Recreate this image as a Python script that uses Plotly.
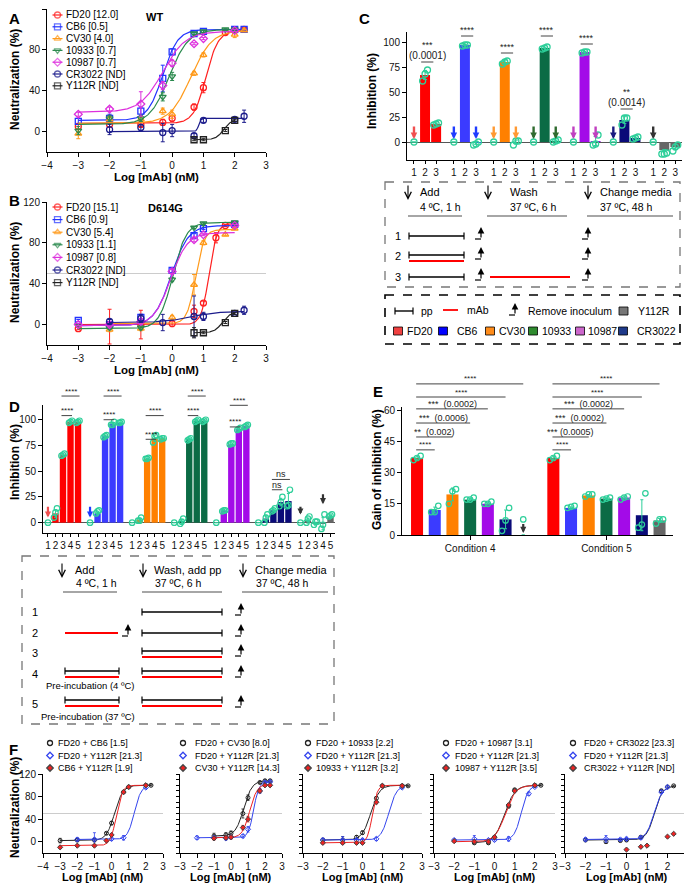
import numpy as np
import plotly.graph_objects as go

W, H = 692, 886
OFF = 8  # the page body margin shifts the figure by 8 px
FONT = 'Liberation Sans, Arial, sans-serif'

# ---------------- data ----------------
mabs = ['FD20', 'CB6', 'CV30', '10933', '10987', 'CR3022', 'Y112R']

# A: WT pseudovirus, x = log10 [mAb] (nM), y = neutralization (%)
wt_ic50 = ['12.0', '0.5', '4.0', '0.7', '0.7', 'ND', 'ND']
wt_x = {
    'FD20':   [-3, -2, -1, -0.3, 0, 0.7, 1, 1.7, 2, 2.3],
    'CB6':    [-3, -2, -1, -0.3, 0, 0.7, 1, 2, 2.3],
    'CV30':   [-3, -2, -1, -0.3, 0, 0.7, 1, 2, 2.3],
    '10933':  [-3, -2, -1, -0.3, 0, 0.7, 1, 1.7, 2],
    '10987':  [-3, -2, -1, -0.3, 0, 0.7, 1, 2],
    'CR3022': [-2, -1, -0.3, 0, 0.7, 1, 2, 2.3],
    'Y112R':  [0.7, 1, 1.7, 2],
}
wt_y = {
    'FD20':   [5, 7, 7, 9, 13, 24, 43, 97, 99, 100],
    'CB6':    [10, 13, 20, 52, 78, 96, 98, 100, 100],
    'CV30':   [-2, 12, 12, 20, 17, 57, 75, 95, 99],
    '10933':  [1, 13, 13, 34, 54, 96, 98, 100, 100],
    '10987':  [17, 22, 27, 45, 67, 86, 91, 99],
    'CR3022': [2, 4, -1, 1, -4, 11, 12, 15],
    'Y112R':  [-8, -8, 1, 11],
}
wt_err = {
    'FD20':   [3, 3, 2, 3, 3, 3, 5, 2, 2, 2],
    'CB6':    [3, 4, 4, 13, 3, 1, 1, 1, 1],
    'CV30':   [5, 3, 3, 3, 4, 2, 2, 3, 1],
    '10933':  [4, 3, 3, 4, 4, 1, 1, 1, 1],
    '10987':  [2, 2, 12, 4, 3, 1, 1, 1],
    'CR3022': [5, 3, 9, 6, 2, 2, 2, 6],
    'Y112R':  [1, 1, 1, 1],
}
# 4PL fit: bottom, top, logIC50, hill
wt_fit = {
    'FD20':   [8, 99, 1.08, 2.2],
    'CB6':    [11, 100, -0.3, 1.8],
    'CV30':   [8, 99, 0.6, 1.3],
    '10933':  [7, 100, -0.1, 1.4],
    '10987':  [19, 98, -0.3, 1.2],
    'CR3022': [0, 13, 0.85, 12],
    'Y112R':  [-8, 12, 1.65, 3.5],
}

# B: D614G
mut_ic50 = ['15.1', '0.9', '5.4', '1.1', '0.8', 'ND', 'ND']
mut_x = {
    'FD20':   [-3, -2, -1, 0, 0.7, 1, 1.4, 1.7, 2],
    'CB6':    [-3, -2, -1, 0, 0.7, 1, 2],
    'CV30':   [-2, -1, 0, 0.7, 1, 1.7, 2],
    '10933':  [-3, -2, -1, 0, 0.7, 1, 2],
    '10987':  [-3, -2, -1, 0, 0.7, 1, 2],
    'CR3022': [-2, -1, -0.3, 0.7, 1, 2, 2.3],
    'Y112R':  [0.7, 1, 1.7, 2],
}
mut_y = {
    'FD20':   [-4, -2, 0, 1, 13, 21, 85, 97, 98],
    'CB6':    [4, 0, 7, 53, 87, 94, 98],
    'CV30':   [-5, -4, 7, 39, 80, 88, 94],
    '10933':  [-1, -3, -3, 44, 95, 99, 100],
    '10987':  [0, 0, 3, 52, 83, 88, 97],
    'CR3022': [3, 6, 2, 8, 8, 11, 14],
    'Y112R':  [-8, -8, 2, 11],
}
mut_err = {
    'FD20':   [1, 17, 14, 3, 6, 2, 5, 1, 1],
    'CB6':    [1, 2, 3, 2, 2, 1, 1],
    'CV30':   [2, 2, 2, 10, 2, 1, 1],
    '10933':  [1, 2, 2, 2, 1, 1, 1],
    '10987':  [1, 2, 3, 2, 2, 1, 1],
    'CR3022': [2, 4, 8, 20, 4, 1, 4],
    'Y112R':  [5, 1, 1, 1],
}
mut_fit = {
    'FD20':   [0, 99, 1.18, 3.5],
    'CB6':    [-1, 97, -0.03, 1.6],
    'CV30':   [1, 93, 0.75, 3.2],
    '10933':  [-4, 100, 0.02, 2.0],
    '10987':  [-1, 90, -0.05, 1.6],
    'CR3022': [2, 13, 0.6, 1.0],
    'Y112R':  [-8, 12, 1.6, 3.5],
}

# C: inhibition (%) for conditions 1-3
c_bars = {
    'FD20': [0, 67, 18], 'CB6': [0, 97, -1], 'CV30': [0, 80, 0], '10933': [0, 94, 1],
    '10987': [0, 90, 1], 'CR3022': [0, 22, 4], 'Y112R': [0, -8, -5],
}
c_reps = {
    'FD20': [[0], [61, 68, 72], [17, 18, 19]],
    'CB6': [[0], [96, 97, 97], [-3, -2, 0]],
    'CV30': [[0], [78, 80, 81], [-3, 1, 1]],
    '10933': [[0], [93, 94, 95], [0, 1, 2]],
    '10987': [[0], [89, 90, 90], [-3, -2, 7]],
    'CR3022': [[0], [17, 24, 24], [3, 4, 5]],
    'Y112R': [[0], [-12, -12, -11], [-9, -5, -3]],
}
c_arrow_conds = {'FD20': [1], 'CB6': [1, 3], 'CV30': [1, 3], '10933': [1, 3],
                 '10987': [1, 3], 'CR3022': [1], 'Y112R': [1]}
c_sig = [('FD20', '***', '(0.0001)', 80), ('CB6', '****', '', 106), ('CV30', '****', '', 89),
         ('10933', '****', '', 106), ('10987', '****', '', 98), ('CR3022', '**', '(0.0014)', 33)]

# D: inhibition (%) for conditions 1-5
d_bars = {
    'FD20': [0, 9, 66, 98, 98], 'CB6': [0, 9, 84, 96, 97], 'CV30': [0, 3, 62, 82, 82],
    '10933': [0, 1, 81, 99, 99], '10987': [0, 12, 76, 91, 94], 'CR3022': [0, 4, 12, 20, 21],
    'Y112R': [0, 2, -1, -1, 6],
}
d_reps = {
    'FD20': [[0], [5, 10, 14], [65, 66, 67], [97, 98, 99], [97, 98, 99]],
    'CB6': [[0], [9, 11, 12], [83, 84, 85], [95, 95, 98], [97, 97, 98]],
    'CV30': [[0], [2, 2, 5], [62, 62, 63], [78, 84, 85], [81, 82, 82]],
    '10933': [[0], [-1, 1, 4], [80, 81, 82], [98, 99, 100], [98, 99, 100]],
    '10987': [[0], [11, 12, 12], [76, 77, 77], [90, 91, 92], [93, 94, 95]],
    'CR3022': [[0], [0, 5, 8], [11, 12, 14], [16, 20, 25], [16, 17, 32]],
    'Y112R': [[0], [0, 4, 6], [-2, 1, 1], [-6, -2, 8], [6, 7, 8]],
}
d_arrows = [('FD20', 1, 17, 5), ('CB6', 1, 17, 5), ('Y112R', 1, 17, 8), ('Y112R', 4, 29, 18)]
d_sig = [('FD20', 4, 123), ('FD20', 3, 104), ('CB6', 4, 123), ('CB6', 3, 100),
         ('CV30', 4, 104), ('CV30', 3, 81), ('10933', 4, 123), ('10933', 3, 104),
         ('10987', 4, 114), ('10987', 3, 93)]
d_ns = [('CR3022', 4, 42), ('CR3022', 3, 32)]

# E: gain of inhibition (%)
conditions = ['Condition 4', 'Condition 5']
e_bars = {
    'Condition 4': [37, 12, 19.5, 17, 15, 7.5, 0],
    'Condition 5': [37, 13, 19, 17.5, 18, 9.5, 7],
}
e_reps = {
    'Condition 4': [[36, 37, 38], [11, 11, 14], [15, 21, 22], [17, 17, 18], [15, 15, 16], [2, 7, 13], [7.5]],
    'Condition 5': [[36, 37, 38], [13, 13.5, 14], [18.5, 19.5, 19.5], [17, 17.5, 18], [17, 18, 18.5], [3.5, 5, 20], [5.5, 7.5, 7.5]],
}
e_sig = {
    'Condition 4': [(6, '****', 72.6), (5, '****', 66.3), (4, '***  (0.0002)', 60.6),
                    (3, '***  (0.0006)', 53.8), (2, '**  (0.002)', 47.1), (1, '****', 40.9)],
    'Condition 5': [(6, '****', 72.6), (5, '****', 66.3), (4, '***  (0.0002)', 60.6),
                    (3, '***  (0.0002)', 53.8), (2, '*** (0.0005)', 47.1), (1, '****', 40.9)],
}

# F: combinations
f_labels = [
    ['FD20 + CB6 [1.5]', 'FD20 + Y112R [21.3]', 'CB6 + Y112R [1.9]'],
    ['FD20 + CV30 [8.0]', 'FD20 + Y112R [21.3]', 'CV30 + Y112R [14.3]'],
    ['FD20 + 10933 [2.2]', 'FD20 + Y112R [21.3]', '10933 + Y112R [3.2]'],
    ['FD20 + 10987 [3.1]', 'FD20 + Y112R [21.3]', '10987 + Y112R [3.5]'],
    ['FD20 + CR3022 [23.3]', 'FD20 + Y112R [21.3]', 'CR3022 + Y112R [ND]'],
]
f_x = [
    [[-3, -2, -1, -0.3, 0, 0.7, 1, 2, 2.3], [-2, -1, 0, 0.7, 2], [-3, -2, -1, -0.3, 0, 0.7, 1, 2]],
    [[-1, -0.3, 0, 0.7, 1, 1.7, 2, 2.3], [-2, -1, -0.3, 0, 0.7, 1, 1.7, 2, 2.3], [-1, -0.3, 0, 0.7, 1, 1.7, 2, 2.3]],
    [[-2, -1, -0.3, 0, 0.7, 1, 2, 2.3], [-2, -1, -0.3, 0, 0.7, 2], [-2, -1, -0.3, 0, 0.7, 1, 2]],
    [[-1, -0.3, 0, 0.7, 1, 2, 2.3], [-2, -1, -0.3, 0, 0.7, 1.7, 2], [-2, -1, -0.3, 0, 0.7, 1, 2]],
    [[-2, -1, -0.3, 0, 0.7, 1.7, 2, 2.3], [-2, -1, -0.3, 0, 0.7, 1.7, 2], [0, 0.7, 1, 2, 2.3]],
]
f_y = [
    [[2, 3, 3, 15, 33, 88, 97, 100, 100], [4, 4, 5, 7, 96], [-10, -7, -7, 2, 12, 88, 97, 100]],
    [[10, 12, 15, 50, 78, 105, 108, 108], [7, 7, 6, 8, 10, 22, 90, 105, 106], [6, 7, 8, 25, 40, 90, 100, 100]],
    [[3, 3, 8, 16, 77, 99, 99, 99], [3, 3, 3, 3, 5, 96], [-2, -2, -2, -2, 70, 99, 99]],
    [[-2, -2, 8, 63, 92, 100, 100], [3, 5, 3, 3, 5, 85, 97], [1, 0, 0, 8, 65, 90, 100]],
    [[3, 0, 2, 3, 8, 90, 97, 99], [4, 5, 4, 5, 7, 88, 97], [-14, -9, -7, 9, 14]],
]
f_err = [
    [[4, 3, 3, 2, 3, 2, 1, 1, 1], [3, 12, 3, 4, 2], [2, 1, 1, 2, 2, 2, 1, 1]],
    [[5, 4, 4, 8, 5, 2, 2, 2], [3, 3, 3, 3, 3, 5, 4, 2, 2], [3, 3, 3, 4, 5, 3, 2, 2]],
    [[3, 6, 3, 3, 3, 1, 1, 1], [3, 6, 3, 3, 3, 2], [2, 2, 2, 2, 3, 1, 1]],
    [[2, 2, 3, 3, 2, 1, 1], [2, 6, 2, 2, 4, 3, 1], [2, 2, 2, 3, 3, 2, 1]],
    [[2, 3, 2, 2, 2, 3, 2, 1], [3, 6, 2, 3, 3, 3, 2], [0, 0, 0, 0, 0]],
]
f_fit = [
    [[2, 100, 0.18, 1.8], [4, 100, 1.33, 2.2], [-7, 100, 0.28, 2.5]],
    [[10, 108, 0.75, 1.8], [7, 106, 1.33, 2.8], [7, 102, 1.1, 2.0]],
    [[3, 100, 0.42, 2.0], [3, 100, 1.33, 2.2], [-2, 100, 0.5, 3.5]],
    [[-2, 100, 0.5, 1.7], [3, 100, 1.33, 2.5], [0, 100, 0.54, 1.7]],
    [[3, 99, 1.37, 2.2], [4, 98, 1.35, 2.2], None],
]

# ---------------- style ----------------
COL = {'FD20': '#ff2020', 'CB6': '#2233ff', 'CV30': '#ff9a1a', '10933': '#2b8a4e',
       '10987': '#dd30dd', 'CR3022': '#1c1c8c', 'Y112R': '#222222'}
SYM = {'FD20': 'circle-open', 'CB6': 'square-open', 'CV30': 'triangle-up-open',
       '10933': 'triangle-down-open', '10987': 'diamond-open', 'CR3022': 'circle-open',
       'Y112R': 'square-open'}
BAR = {'FD20': '#ff0000', 'CB6': '#3b3bff', 'CV30': '#ff8000', '10933': '#0b6b45',
       '10987': '#a30be8', 'CR3022': '#0a0a78', 'Y112R': '#666666'}
ARROW = {'FD20': '#f05050', 'CB6': '#1f3cff', 'CV30': '#ff9933', '10933': '#2f6b2f',
         '10987': '#c040c0', 'CR3022': '#1a1a80', 'Y112R': '#333333'}
BOXCOL = {'FD20': '#f04040', 'CB6': '#0000ff', 'CV30': '#ff8c1a', '10933': '#2e8b2e',
          '10987': '#cc66cc', 'CR3022': '#1f3a8a', 'Y112R': '#777777'}
F_COL = ['#222222', '#3344ee', '#ee2222']
F_SYM = ['circle-open', 'diamond-open', 'diamond']
DOT = '#2ecf9a'

fig = go.Figure()
ann, shp = [], []


# page pixel -> paper fraction
def fx(px):
    return (px - OFF) / W


def fy(py):
    return 1 - (py - OFF) / H


def text(px, py, s, size=10, bold=False, anchor='left', color='black', angle=0):
    ann.append(dict(x=fx(px), y=fy(py), xref='paper', yref='paper',
                    text='<b>%s</b>' % s if bold else s, showarrow=False,
                    xanchor=anchor, yanchor='middle', textangle=angle, borderpad=0,
                    font=dict(size=size, family=FONT, color=color)))


def seg(x0, y0, x1, y1, color='black', width=1.2, dash='solid'):
    shp.append(dict(type='line', xref='paper', yref='paper', x0=fx(x0), y0=fy(y0),
                    x1=fx(x1), y1=fy(y1), line=dict(color=color, width=width, dash=dash)))


def rect(x0, y0, x1, y1, fill='rgba(0,0,0,0)', color='black', width=1, dash='solid'):
    shp.append(dict(type='rect', xref='paper', yref='paper', x0=fx(x0), y0=fy(y0),
                    x1=fx(x1), y1=fy(y1), fillcolor=fill, line=dict(color=color, width=width, dash=dash)))


def arrow(px, py_tail, py_head, color='black', width=1.2, head=5, size=1.0):
    ann.append(dict(x=fx(px), y=fy(py_head), xref='paper', yref='paper', text='',
                    showarrow=True, ax=0, ay=py_tail - py_head, arrowhead=head,
                    arrowsize=size, arrowwidth=width, arrowcolor=color))


def capped(x0, x1, y, color='black'):
    seg(x0, y, x1, y, color, 1.4)
    seg(x0, y - 3.5, x0, y + 3.5, color, 1.2)
    seg(x1, y - 3.5, x1, y + 3.5, color, 1.2)


def inoc(px, py):
    seg(px - 6, py + 3, px, py + 3, 'black', 1.2)
    arrow(px, py + 3, py - 9, 'black', 1.2, head=2, size=1.1)


def four_pl(x, p):
    b, t, ec, h = p
    return b + (t - b) / (1 + 10 ** ((ec - x) * h))


def mapper(rng, p0, p1):
    return lambda v: p0 + (v - rng[0]) / (rng[1] - rng[0]) * (p1 - p0)


base_axis = dict(showline=True, linecolor='black', linewidth=1, ticks='outside', ticklen=4,
                 tickwidth=1, tickcolor='black', showgrid=False, zeroline=False, automargin=False,
                 tickfont=dict(size=10, family=FONT, color='#111'))
layout_axes = {}


def add_axes(n, xdom, xr, ydom, yr, xextra=None, yextra=None):
    xa = dict(base_axis, domain=[fx(xdom[0]), fx(xdom[1])], range=xr, anchor='y%d' % n, tickangle=0)
    ya = dict(base_axis, domain=[fy(ydom[1]), fy(ydom[0])], range=yr, anchor='x%d' % n)
    xa.update(xextra or {})
    ya.update(yextra or {})
    layout_axes['xaxis%d' % n] = xa
    layout_axes['yaxis%d' % n] = ya


# ---------------- A & B: neutralization curves ----------------
def curve_panel(n, xs_d, ys_d, err_d, fit_d):
    for m in mabs:
        xs = np.linspace(min(xs_d[m]), max(xs_d[m]), 200)
        fig.add_trace(go.Scatter(x=xs, y=four_pl(xs, fit_d[m]), mode='lines',
                                 line=dict(color=COL[m], width=1.2), xaxis='x%d' % n, yaxis='y%d' % n))
        fig.add_trace(go.Scatter(x=xs_d[m], y=ys_d[m], mode='markers',
                                 marker=dict(symbol=SYM[m], size=6, color=COL[m], line=dict(width=1.3)),
                                 error_y=dict(type='data', array=err_d[m], color=COL[m], thickness=1, width=2),
                                 xaxis='x%d' % n, yaxis='y%d' % n))


add_axes(1, (47, 266), [-4, 3], (9, 152), [-20, 120], dict(dtick=1), dict(tickvals=[0, 40, 80, 120]))
curve_panel(1, wt_x, wt_y, wt_err, wt_fit)
add_axes(2, (47, 266), [-4, 3], (202, 345), [-20, 120], dict(dtick=1), dict(tickvals=[0, 40, 80, 120]))
shp.append(dict(type='line', xref='x2 domain', yref='y2', x0=0, x1=1, y0=50, y1=50,
                line=dict(color='#cccccc', width=1), layer='below'))
curve_panel(2, mut_x, mut_y, mut_err, mut_fit)

# legend keys drawn on a full-canvas pixel axis (page pixels)
layout_axes['xaxis11'] = dict(domain=[0, 1], range=[OFF, OFF + W], visible=False, anchor='y11')
layout_axes['yaxis11'] = dict(domain=[0, 1], range=[OFF + H, OFF], visible=False, anchor='x11')


def key(px, py, color, symbol, size=6, line=True):
    xs = [px - 5, px, px + 5] if line else [px]
    fig.add_trace(go.Scatter(x=xs, y=[py] * len(xs), mode='lines+markers' if line else 'markers',
                             line=dict(color=color, width=1.2),
                             marker=dict(symbol=symbol, color=color, line=dict(width=1.3),
                                         size=[0, size, 0] if line else size),
                             xaxis='x11', yaxis='y11', cliponaxis=False))


for i, m in enumerate(mabs):
    key(57.5, 15 + 11.8 * i, COL[m], SYM[m])
    text(65, 15 + 11.8 * i, '%s [%s]' % (m, wt_ic50[i]), 10)
    key(57.5, 207 + 12.6 * i, COL[m], SYM[m])
    text(65, 207 + 12.6 * i, '%s [%s]' % (m, mut_ic50[i]), 10)
text(145, 17, 'WT', 11, True)
text(147, 208, 'D614G', 11, True)
for py_c, py_t in [(80, 177), (273, 370)]:
    text(15, py_c, 'Neutralization (%)', 12, True, 'center', angle=-90)
    text(156, py_t, 'Log [mAb] (nM)', 11.5, True, 'center')

# ---------------- C: bars ----------------
C_XR, C_YR = [-0.63, 24.2], [-18, 110]
add_axes(3, (407, 682), C_XR, (32, 160), C_YR,
         dict(tickvals=[g * 3.6 + i for g in range(7) for i in range(3)],
              ticktext=[str(i + 1) for g in range(7) for i in range(3)], ticklen=3),
         dict(tickvals=[0, 25, 50, 75, 100], zeroline=True, zerolinecolor='#555', zerolinewidth=1))
cx, cy = mapper(C_XR, 407, 682), mapper(C_YR, 160, 32)
jit = [-0.22, 0, 0.22]
for g, m in enumerate(mabs):
    pos = [g * 3.6 + i for i in range(3)]
    fig.add_trace(go.Bar(x=pos, y=c_bars[m], width=0.9, marker=dict(color=BAR[m], line=dict(width=0)),
                         error_y=dict(type='data', array=[float(np.std(r)) for r in c_reps[m]],
                                      color=DOT, thickness=1, width=2),
                         xaxis='x3', yaxis='y3'))
    dx, dy = [], []
    for i, r in enumerate(c_reps[m]):
        for k, v in enumerate(r):
            dx.append(pos[i] + (jit[k] if len(r) > 1 else 0))
            dy.append(v)
    fig.add_trace(go.Scatter(x=dx, y=dy, mode='markers', xaxis='x3', yaxis='y3', cliponaxis=False,
                             marker=dict(symbol='circle-open', size=6, color=DOT, line=dict(width=1.3))))
    for cnd in c_arrow_conds[m]:
        arrow(cx(pos[cnd - 1]), cy(17), cy(3), ARROW[m], 2.4, head=2, size=0.55)
for m, stars, p, v in c_sig:
    g = mabs.index(m)
    x0, x1 = cx(g * 3.6 + 0.65), cx(g * 3.6 + 1.75)
    seg(x0, cy(v), x1, cy(v), '#444', 1)
    if p:
        text((x0 + x1) / 2, cy(v) - 6, p, 10, anchor='center', color='#222')
        text((x0 + x1) / 2, cy(v) - 17, stars, 9, anchor='center', color='#222')
    else:
        text((x0 + x1) / 2, cy(v) - 6, stars, 9, anchor='center', color='#222')
text(372, 91, 'Inhibition (%)', 12, True, 'center', angle=-90)

# C schematic
rect(385, 182, 680, 287, color='#777', width=1.3, dash='dash')
for ax_, tx, t1, t2, u0, u1 in [(408, 419, 'Add', '4 ºC, 1 h', 408, 462),
                                (488, 509, 'Wash', '37 ºC, 6 h', 487, 567),
                                (588, 599, 'Change media', '37 ºC, 48 h', 587, 673)]:
    arrow(ax_, 184, 200, 'black', 1.1, head=5, size=1.2)
    text(tx, 192, t1, 11)
    text(tx, 207, t2, 10.5)
    seg(u0, 216, u1, 216, '#888', 1.5)
for i, py in enumerate([236, 256, 277]):
    text(398, py, str(i + 1), 11, anchor='center')
    inoc(481, py)
    inoc(588, py)
capped(409, 464, 236)
capped(409, 464, 255)
seg(409, 261, 464, 261, 'red', 1.8)
capped(409, 464, 277)
seg(490, 277, 570, 277, 'red', 1.8)
rect(385, 295, 680, 344, color='black', width=1.6, dash='dash')
capped(395, 413, 311)
text(420, 311, 'pp', 10.5)
seg(443, 310, 458, 310, 'red', 1.8)
text(466, 310, 'mAb', 10.5)
inoc(515, 312)
text(527, 311, 'Remove inoculum', 10.5)
rect(619, 307, 628, 315, BOXCOL['Y112R'], 'black', 0.8)
text(637, 311, 'Y112R', 10.5)
for m, sx, tx in zip(mabs[:6], [398, 443, 490, 533, 580, 623], [406, 456, 498, 541, 587, 636]):
    rect(sx - 4.5, 327, sx + 4.5, 335, BOXCOL[m], 'black', 0.8)
    text(tx, 331, m, 10.5)

# ---------------- D: bars ----------------
D_XR, D_YR = [-0.66, 38.2], [-10, 114.3]
add_axes(4, (43, 335), D_XR, (405, 533), D_YR,
         dict(tickvals=[g * 5.6 + i for g in range(7) for i in range(5)],
              ticktext=[str(i + 1) for g in range(7) for i in range(5)], ticklen=3),
         dict(tickvals=[0, 25, 50, 75, 100], zeroline=True, zerolinecolor='#555', zerolinewidth=1))
dxm, dym = mapper(D_XR, 43, 335), mapper(D_YR, 533, 405)
jit = [-0.2, 0, 0.2]
for g, m in enumerate(mabs):
    pos = [g * 5.6 + i for i in range(5)]
    fig.add_trace(go.Bar(x=pos, y=d_bars[m], width=0.85, marker=dict(color=BAR[m], line=dict(width=0)),
                         error_y=dict(type='data', array=[float(np.std(r)) for r in d_reps[m]],
                                      color=DOT, thickness=1, width=1.5),
                         xaxis='x4', yaxis='y4'))
    dx, dy = [], []
    for i, r in enumerate(d_reps[m]):
        for k, v in enumerate(r):
            dx.append(pos[i] + (jit[k] if len(r) > 1 else 0))
            dy.append(v)
    fig.add_trace(go.Scatter(x=dx, y=dy, mode='markers', xaxis='x4', yaxis='y4', cliponaxis=False,
                             marker=dict(symbol='circle-open', size=5.5, color=DOT, line=dict(width=1.2))))
for m, cnd, v0, v1 in d_arrows:
    g = mabs.index(m)
    arrow(dxm(g * 5.6 + cnd - 1), dym(v0), dym(v1), ARROW[m], 2.2, head=2, size=0.55)
for m, to, v in d_sig + d_ns:
    g = mabs.index(m)
    x0, x1 = dxm(g * 5.6 + 1.8), dxm(g * 5.6 + to + 0.2)
    seg(x0, dym(v), x1, dym(v), '#444', 1)
    text((x0 + x1) / 2, dym(v) - 5, 'ns' if m == 'CR3022' else '****', 9 if m == 'CR3022' else 8,
         anchor='center', color='#222')
text(15, 462, 'Inhibition (%)', 12, True, 'center', angle=-90)

# D schematic
rect(22, 556, 334, 724, color='#777', width=1.3, dash='dash')
for ax_, tx, t1, t2, u0, u1 in [(62, 74, 'Add', '4 ºC, 1 h', 63, 117),
                                (143, 153, 'Wash, add pp', '37 ºC, 6 h', 142, 222),
                                (243, 254, 'Change media', '37 ºC, 48 h', 242, 328)]:
    arrow(ax_, 562, 578, 'black', 1.1, head=5, size=1.2)
    text(tx, 570, t1, 11)
    text(tx + 1, 583, t2, 10.5)
    seg(u0, 592, u1, 592, '#888', 1.5)
for i, py in enumerate([612, 633, 653, 674, 704]):
    text(35, py, str(i + 1), 11, anchor='center')
    inoc(241, py)
capped(142, 222, 612)
seg(65, 633, 118, 633, 'red', 1.8)
inoc(128, 633)
capped(142, 222, 633)
capped(142, 222, 651)
seg(142, 657, 222, 657, 'red', 1.8)
for py in [671, 700]:
    for a, b in [(65, 119), (142, 222)]:
        capped(a, b, py)
        seg(a, py + 6, b, py + 6, 'red', 1.8)
text(90, 685, 'Pre-incubation (4 ºC)', 9.5, anchor='center')
text(88, 716, 'Pre-incubation (37 ºC)', 9.5, anchor='center')

# ---------------- E: gain of inhibition ----------------
E_XR, E_YR = [-0.85, 14.46], [0, 61.5]
add_axes(5, (402, 673), E_XR, (407, 535), E_YR,
         dict(tickvals=[c * 7.7 + 3 for c in range(2)], ticktext=conditions, ticklen=4),
         dict(tickvals=[0, 15, 30, 45, 60]))
exm, eym = mapper(E_XR, 402, 673), mapper(E_YR, 535, 407)
for c, cond in enumerate(conditions):
    pos = [c * 7.7 + i for i in range(7)]
    fig.add_trace(go.Bar(x=pos, y=e_bars[cond], width=0.68,
                         marker=dict(color=[BAR[m] for m in mabs], line=dict(width=0)),
                         error_y=dict(type='data', array=[float(np.std(r)) if len(r) > 1 else 0 for r in e_reps[cond]],
                                      color=DOT, thickness=1, width=1.5),
                         xaxis='x5', yaxis='y5'))
    dx, dy = [], []
    for i, r in enumerate(e_reps[cond]):
        for k, v in enumerate(r):
            dx.append(pos[i] + (jit[k] if len(r) > 1 else 0))
            dy.append(v)
    fig.add_trace(go.Scatter(x=dx, y=dy, mode='markers', xaxis='x5', yaxis='y5', cliponaxis=False,
                             marker=dict(symbol='circle-open', size=5.5, color=DOT, line=dict(width=1.2))))
    for to, label, v in e_sig[cond]:
        x0, x1 = exm(c * 7.7 - 0.05), exm(c * 7.7 + to)
        seg(x0, eym(v), x1, eym(v), '#444', 1)
        text((x0 + x1) / 2, eym(v) - 5, label, 9 if '(' in label else 8, anchor='center', color='#222')
arrow(exm(6), eym(6), eym(1), ARROW['Y112R'], 2.2, head=2, size=0.55)
text(377, 470, 'Gain of inhibition (%)', 12, True, 'center', angle=-90)

# ---------------- F: combinations ----------------
f_dom = [(43, 163), (180, 282), (303, 422), (434, 555), (565, 688)]
f_leg = [(50, 57), (183, 194), (308, 315), (446, 454), (573, 583)]
for j in range(5):
    n = 6 + j
    xr = [-4, 3] if j == 0 else [-3, 3]
    yextra = dict(tickvals=[0, 40, 80, 120]) if j == 0 else dict(dtick=10, showticklabels=False, ticklen=3)
    add_axes(n, f_dom[j], xr, (774, 853), [-20, 120], dict(dtick=1), yextra)
    shp.append(dict(type='line', xref='x%d domain' % n, yref='y%d' % n, x0=0, x1=1, y0=50, y1=50,
                    line=dict(color='#cccccc', width=1), layer='below'))
    for s in range(3):
        if f_fit[j][s] is not None:
            xs = np.linspace(min(f_x[j][s]), max(f_x[j][s]), 200)
            fig.add_trace(go.Scatter(x=xs, y=four_pl(xs, f_fit[j][s]), mode='lines',
                                     line=dict(color=F_COL[s], width=1), xaxis='x%d' % n, yaxis='y%d' % n))
        fig.add_trace(go.Scatter(x=f_x[j][s], y=f_y[j][s], mode='markers',
                                 marker=dict(symbol=F_SYM[s], size=4, color=F_COL[s], line=dict(width=1)),
                                 error_y=dict(type='data', array=f_err[j][s], color=F_COL[s], thickness=0.8, width=1.5),
                                 xaxis='x%d' % n, yaxis='y%d' % n))
        key(f_leg[j][0], 743 + 12.5 * s, F_COL[s], F_SYM[s], 5, line=False)
        text(f_leg[j][1], 743 + 12.5 * s, f_labels[j][s], 9)
    text(sum(f_dom[j]) / 2, 877, 'Log [mAb] (nM)', 11, True, 'center')
text(15, 808, 'Neutralization (%)', 12, True, 'center', angle=-90)

# panel letters
for s, px, py in [('A', 8, 18), ('B', 8, 200), ('C', 358, 18), ('D', 8, 406), ('E', 372, 391), ('F', 8, 749)]:
    text(px, py, s, 15, True)

fig.update_layout(width=W, height=H, margin=dict(l=0, r=0, t=0, b=0), autosize=False,
                  showlegend=False, plot_bgcolor='rgba(0,0,0,0)', paper_bgcolor='white',
                  barmode='overlay', annotations=ann, shapes=shp, **layout_axes)
fig.write_html("out.html")
